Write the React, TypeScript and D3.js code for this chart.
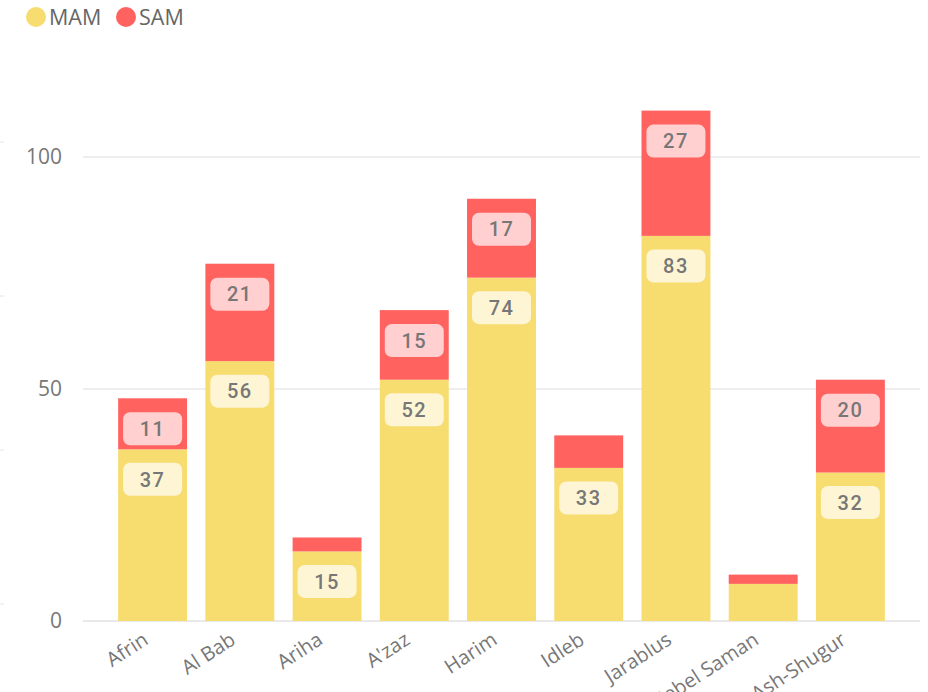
import React from "react";
import * as d3 from "d3";

const categories = ["Afrin", "Al Bab", "Ariha", "A'zaz", "Harim", "Idleb", "Jarablus", "Jebel Saman", "Jisr Ash-Shugur"];
const mam = [37, 56, 15, 52, 74, 33, 83, 8, 32];
const sam = [11, 21, 3, 15, 17, 7, 27, 2, 20];
const yTicks = [0, 50, 100];
const seriesNames = ["MAM", "SAM"];
const seriesColors = ["#F7DC6F", "#FF625F"];

const W = 928;
const H = 692;

export default function App() {
  const x = d3.scaleBand<string>().domain(categories).range([109, 894]).paddingInner(0.21).paddingOuter(0.105);
  const y = d3.scaleLinear().domain([0, 100]).range([621, 157]);
  const bw = x.bandwidth();
  const font = "'Open Sans', 'Noto Sans', sans-serif";
  const labelMin = 10;

  const label = (cx: number, cy: number, v: number, key: string) => (
    <g key={key}>
      <rect x={cx - 29.5} y={cy - 16.5} width={59} height={33} rx={7} fill="#ffffff" fillOpacity={0.7} />
      <text x={cx} y={cy} dy="0.36em" textAnchor="middle" fontFamily="Roboto, sans-serif" fontWeight={500} fontSize={20} fill="#777" letterSpacing={1.5}>{v}</text>
    </g>
  );

  return (
    <svg width={W} height={H} style={{ position: "absolute", left: 0, top: 0, background: "#fff" }}>
      {[142, 296, 450, 604].map((yy) => (
        <line key={yy} x1={0} x2={4} y1={yy} y2={yy} stroke="#e6e6e6" strokeWidth={1} />
      ))}
      {seriesNames.map((n, i) => {
        const lx = [36, 126][i];
        return (
          <g key={n}>
            <circle cx={lx} cy={17} r={10} fill={seriesColors[i]} />
            <text x={lx + 13} y={17} dy="0.35em" fontFamily={font} fontSize={21.5} fill="#666">{n}</text>
          </g>
        );
      })}
      {yTicks.map((t) => (
        <g key={t}>
          <line x1={83} x2={920} y1={y(t)} y2={y(t)} stroke="#e9e9e9" strokeWidth={t === 0 ? 2 : 1.5} />
          <text x={62} y={y(t)} dy="0.35em" textAnchor="end" fontFamily={font} fontSize={21} fill="#777">{t}</text>
        </g>
      ))}
      {categories.map((c, i) => {
        const bx = x(c) as number;
        const cx = bx + bw / 2;
        const y0 = y(0), y1 = y(mam[i]), y2 = y(mam[i] + sam[i]);
        return (
          <g key={c}>
            <rect x={bx} y={y1} width={bw} height={y0 - y1} fill={seriesColors[0]} />
            <rect x={bx} y={y2} width={bw} height={y1 - y2} fill={seriesColors[1]} />
            {mam[i] >= labelMin && label(cx, y1 + 30, mam[i], c + "m")}
            {sam[i] >= labelMin && label(cx, y2 + 30.5, sam[i], c + "s")}
          </g>
        );
      })}
      {categories.map((c) => {
        const cx = (x(c) as number) + bw / 2;
        return (
          <text key={c} transform={`translate(${cx - 3},${643}) rotate(-33)`} textAnchor="end" fontFamily={font} fontSize={20} fill="#777">{c}</text>
        );
      })}
    </svg>
  );
}
